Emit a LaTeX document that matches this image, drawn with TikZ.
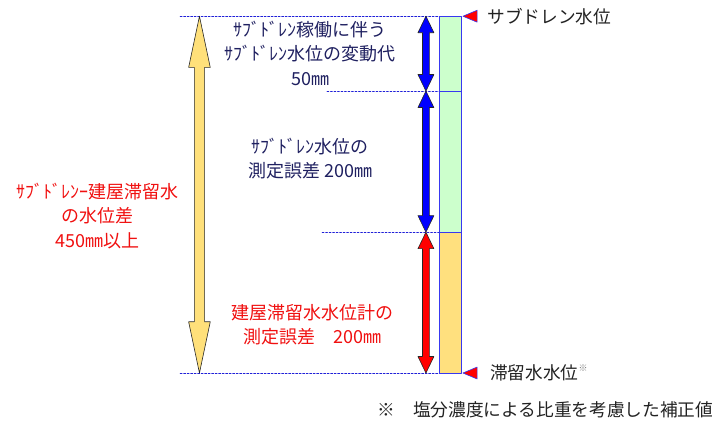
\documentclass[tikz,border=0pt]{standalone}
\usepackage{fontspec}
\usetikzlibrary{calc}
\newfontfamily\jp{Noto Sans CJK JP}
\definecolor{navytext}{HTML}{1F2060}
\definecolor{redtext}{HTML}{F01010}
\definecolor{gaugegreen}{HTML}{CCFFCC}
\definecolor{gaugeyellow}{HTML}{FFE07E}
\definecolor{gaugeblue}{HTML}{3838F0}
\definecolor{levelblue}{HTML}{2020D8}
\definecolor{arrowyellow}{HTML}{FFE07A}
\definecolor{labelgray}{HTML}{222222}
% block double arrow: fill, upper tip, lower tip, shaft half, head half, head length
\newcommand{\dblarrow}[6]{%
  \filldraw[fill=#1,draw=black!85,line width=0.6pt] let \p1=(#2), \p2=(#3) in
    (\x1,\y1) -- (\x1-#5,\y1-#6) -- (\x1-#4,\y1-#6) -- (\x1-#4,\y2+#6) -- (\x1-#5,\y2+#6)
    -- (\x2,\y2) -- (\x1+#5,\y2+#6) -- (\x1+#4,\y2+#6) -- (\x1+#4,\y1-#6) -- (\x1+#5,\y1-#6) -- cycle;}
\begin{document}
\begin{tikzpicture}[line cap=round,line join=round,
  level/.style={levelblue,line width=0.6pt,dash pattern=on 2pt off 1.5pt},
  txt/.style={font=\jp\fontsize{18}{24.5}\selectfont,align=center,inner sep=0pt},
  lbl/.style={font=\jp\fontsize{17.7}{20}\selectfont,text=labelgray,inner sep=0pt}]
  \useasboundingbox (0,0) rectangle (25.20,14.80);
  % levels
  \coordinate (TopL) at (6.33,14.23);
  \coordinate (TopR) at (15.46,14.23);
  \coordinate (VarL) at (11.49,11.60);
  \coordinate (VarR) at (15.46,11.60);
  \coordinate (ErrL) at (11.32,6.64);
  \coordinate (ErrR) at (15.46,6.64);
  \coordinate (BotL) at (6.33,1.69);
  \coordinate (BotR) at (15.46,1.69);
  \draw[level] (TopL) -- (TopR);
  \draw[level] (VarL) -- (VarR);
  \draw[level] (ErrL) -- (ErrR);
  \draw[level] (BotL) -- (BotR);
  % gauge column
  \fill[gaugegreen] (15.46,6.64) rectangle (16.20,14.23);
  \fill[gaugeyellow] (15.46,1.69) rectangle (16.20,6.64);
  \draw[gaugeblue,line width=0.8pt] (15.46,1.69) rectangle (16.20,14.23);
  \draw[gaugeblue,line width=0.8pt] (VarR) -- (16.20,11.60);
  \draw[gaugeblue,line width=0.8pt] (ErrR) -- (16.20,6.64);
  % markers
  \filldraw[fill=red,draw=gaugeblue,line width=0.6pt] (16.27,14.23) -- (16.77,14.44) -- (16.77,14.02) -- cycle;
  \filldraw[fill=red,draw=gaugeblue,line width=0.6pt] (16.27,1.69) -- (16.77,1.90) -- (16.77,1.48) -- cycle;
  % arrows
  \coordinate (A1) at (14.97,14.23);
  \coordinate (A2) at (14.97,11.60);
  \coordinate (A3) at (14.97,6.64);
  \coordinate (A4) at (14.97,1.69);
  \coordinate (Y1) at (7.01,14.23);
  \coordinate (Y2) at (7.01,1.69);
  \dblarrow{arrowyellow}{Y1}{Y2}{0.18cm}{0.38cm}{1.80cm}
  \dblarrow{blue}{A1}{A2}{0.12cm}{0.28cm}{0.58cm}
  \dblarrow{blue}{A2}{A3}{0.12cm}{0.28cm}{0.58cm}
  \dblarrow{red}{A3}{A4}{0.12cm}{0.28cm}{0.58cm}
  % texts
  \node[txt,text=navytext] (vartxt) at (10.90,12.93) {ｻﾌﾞﾄﾞﾚﾝ稼働に伴う\\ｻﾌﾞﾄﾞﾚﾝ水位の変動代\\50㎜};
  \node[txt,text=navytext] (sderr) at (10.90,9.23) {ｻﾌﾞﾄﾞﾚﾝ水位の\\測定誤差 200㎜};
  \node[txt,text=redtext] (bderr) at (11.00,3.39) {建屋滞留水水位計の\\測定誤差　200㎜};
  \node[txt,text=redtext] (diff) at (3.41,7.22) {ｻﾌﾞﾄﾞﾚﾝｰ建屋滞留水\\の水位差\\450㎜以上};
  \node[lbl,anchor=west] (sdlevel) at (17.12,14.23) {サブドレン水位};
  \node[lbl,anchor=west] (bdlevel) at (17.22,1.69) {滞留水水位\raisebox{0.45em}{\fontsize{9}{9}\selectfont\color{gray}※}};
  \node[lbl,anchor=east] (note) at (25.08,0.39) {※　塩分濃度による比重を考慮した補正値};
\end{tikzpicture}
\end{document}
